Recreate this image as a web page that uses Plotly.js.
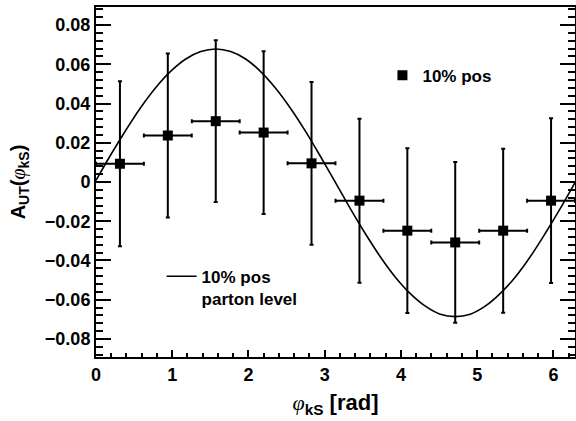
<!DOCTYPE html>
<html>
<head>
<meta charset="utf-8">
<script src="https://cdn.plot.ly/plotly-3.0.1.min.js"></script>
<style>html,body{margin:0;padding:0;background:#fff;}#plot{width:576px;height:421px;}</style>
</head>
<body>
<div id="plot"></div>
<script>
// measured points (10% pos)
const phiKS = [0.314, 0.942, 1.571, 2.199, 2.827, 3.456, 4.084, 4.712, 5.341, 5.969];
const aut = [0.0093, 0.0237, 0.0310, 0.0252, 0.0095, -0.0095, -0.0248, -0.0308, -0.0248, -0.0095];
const autErr = [0.0421, 0.0418, 0.0412, 0.0415, 0.0415, 0.0418, 0.0420, 0.0410, 0.0418, 0.0420];
const phiErr = [0.314, 0.314, 0.314, 0.314, 0.314, 0.314, 0.314, 0.314, 0.314, 0.314];

// parton-level curve
const curveX = [0, 0.196, 0.393, 0.589, 0.785, 0.982, 1.178, 1.374, 1.571, 1.767, 1.963, 2.160, 2.356, 2.553, 2.749, 2.945,
  3.142, 3.338, 3.534, 3.731, 3.927, 4.123, 4.320, 4.516, 4.712, 4.909, 5.105, 5.301, 5.498, 5.694, 5.890, 6.087, 6.283];
const curveY = [0.0008, 0.0140, 0.0265, 0.0381, 0.0482, 0.0565, 0.0627, 0.0665, 0.0678, 0.0665, 0.0627, 0.0563, 0.0478, 0.0375, 0.0258, 0.0130,
  -0.0003, -0.0137, -0.0264, -0.0382, -0.0485, -0.0569, -0.0633, -0.0674, -0.0686, -0.0674, -0.0633, -0.0569, -0.0485, -0.0382, -0.0264, -0.0137, -0.0003];

const legendPoints = '10% pos';
const legendCurve = '10% pos<br>parton level';
const PHI = "<span style='font-family:Liberation Serif;font-weight:normal'><i>φ</i></span>";
const xTitle = PHI + "<b><sub>kS</sub> [rad]</b>";
const yTitle = "<b>A<sub>UT</sub>(</b>" + PHI + "<b><sub>kS</sub>)</b>";

const FONT = 'Liberation Sans, Arial, sans-serif';

const traces = [
  {
    x: curveX, y: curveY, type: 'scatter', mode: 'lines',
    line: {color: '#000', width: 1.6, shape: 'spline'},
    name: legendCurve, legend: 'legend2', hoverinfo: 'skip'
  },
  {
    x: phiKS, y: aut, type: 'scatter', mode: 'markers',
    marker: {symbol: 'square', size: 10, color: '#000'},
    error_y: {type: 'data', array: autErr, visible: true, color: '#000', thickness: 2, width: 2},
    error_x: {type: 'data', array: phiErr, visible: true, color: '#000', thickness: 2, width: 2},
    name: legendPoints, legend: 'legend'
  }
];

const layout = {
  width: 576, height: 421,
  margin: {l: 96, r: 1, t: 7, b: 64},
  paper_bgcolor: '#fff', plot_bgcolor: '#fff',
  font: {family: FONT, color: '#000'},
  showlegend: true,
  xaxis: {
    range: [0, 6.2832], showgrid: false, zeroline: false,
    showline: true, linecolor: '#000', linewidth: 2, mirror: true,
    ticks: 'inside', ticklen: 7, tickwidth: 2, tickcolor: '#000',
    tick0: 0, dtick: 1,
    minor: {ticks: 'inside', ticklen: 4, tickwidth: 2, tickcolor: '#000', dtick: 0.2, showgrid: false},
    tickfont: {family: FONT, size: 18, weight: 'bold'},
    title: {text: xTitle, font: {family: FONT, size: 22}, standoff: 11}
  },
  yaxis: {
    range: [-0.0892, 0.0892], showgrid: false, zeroline: false,
    showline: true, linecolor: '#000', linewidth: 2, mirror: 'ticks',
    ticks: 'inside', ticklen: 15, tickwidth: 2, tickcolor: '#000',
    tick0: 0, dtick: 0.02,
    minor: {ticks: 'inside', ticklen: 7, tickwidth: 2, tickcolor: '#000', dtick: 0.004, showgrid: false},
    tickfont: {family: FONT, size: 18, weight: 'bold'},
    title: {text: yTitle, font: {family: FONT, size: 20}, standoff: 14}
  },
  legend: {
    x: 0.598, y: 0.855, xanchor: 'left', yanchor: 'top',
    bgcolor: 'rgba(0,0,0,0)', borderwidth: 0,
    font: {family: FONT, size: 17, weight: 'bold'}
  },
  legend2: {
    x: 0.137, y: 0.281, xanchor: 'left', yanchor: 'top',
    bgcolor: 'rgba(0,0,0,0)', borderwidth: 0, valign: 'top',
    font: {family: FONT, size: 17, weight: 'bold'}
  }
};

Plotly.newPlot('plot', traces, layout, {staticPlot: true, displayModeBar: false});
</script>
</body>
</html>
